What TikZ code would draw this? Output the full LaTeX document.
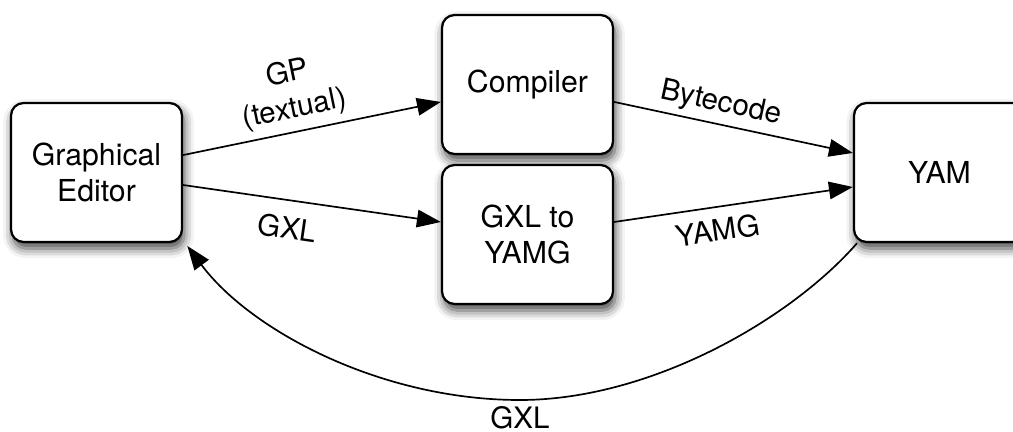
\documentclass[tikz,border=0pt]{standalone}
\usepackage{fontspec}
\setmainfont{TeX Gyre Heros}
\usetikzlibrary{arrows.meta,shadows.blur}
\tikzset{
    box/.style={rectangle, rounded corners=9pt, draw=black, line width=1.6pt, fill=white,
        minimum width=4.275cm, minimum height=3.475cm, inner sep=0, align=center,
        font=\fontsize{21.5}{25.6}\selectfont,
        blur shadow={shadow xshift=1.5pt, shadow yshift=-4.5pt, shadow blur radius=7pt, shadow opacity=75}},
    flow/.style={line width=1.2pt, -{Triangle[length=17pt, width=12.5pt]}},
    lbl/.style={font=\fontsize{21}{25.6}\selectfont, align=center, sloped}
}

\begin{document}
\begin{tikzpicture}[x=0.025cm, y=-0.025cm]
    \useasboundingbox (0,0) rectangle (1013,432);
    \node[box] (editor)   at (96.5,172.5)  {Graphical\\Editor};
    \node[box] (compiler) at (527.5,84.5)  {Compiler};
    \node[box] (gxl2yamg) at (527.5,234.5) {GXL to\\YAMG};
    \node[box] (yam)      at (939.5,172.5) {YAM};

    \draw[flow] ([yshift=12.4pt]editor.east) -- ([yshift=-12.4pt]compiler.west)
        node[lbl, pos=0.45, above, inner sep=5pt] {GP\\(textual)};
    \draw[flow] ([yshift=-8.9pt]editor.east) -- ([yshift=8.9pt]gxl2yamg.west)
        node[lbl, pos=0.42, below, inner sep=11pt] {GXL};
    \draw[flow] ([yshift=-12.4pt]compiler.east) -- ([yshift=13.9pt]yam.west)
        node[lbl, pos=0.43, above, inner sep=4pt] {Bytecode};
    \draw[flow] ([yshift=8.9pt]gxl2yamg.east) -- ([yshift=-10.3pt]yam.west)
        node[lbl, pos=0.42, below, inner sep=8pt] {YAMG};
    % way back to the editor
    \draw[flow] ([xshift=3pt]yam.south west) .. controls (790,320) and (650,400) .. (520,400)
        node[lbl, below, inner sep=4pt] {GXL}
        .. controls (380,400) and (250,330) .. ([xshift=3pt,yshift=-2pt]editor.south east);
\end{tikzpicture}
\end{document}
